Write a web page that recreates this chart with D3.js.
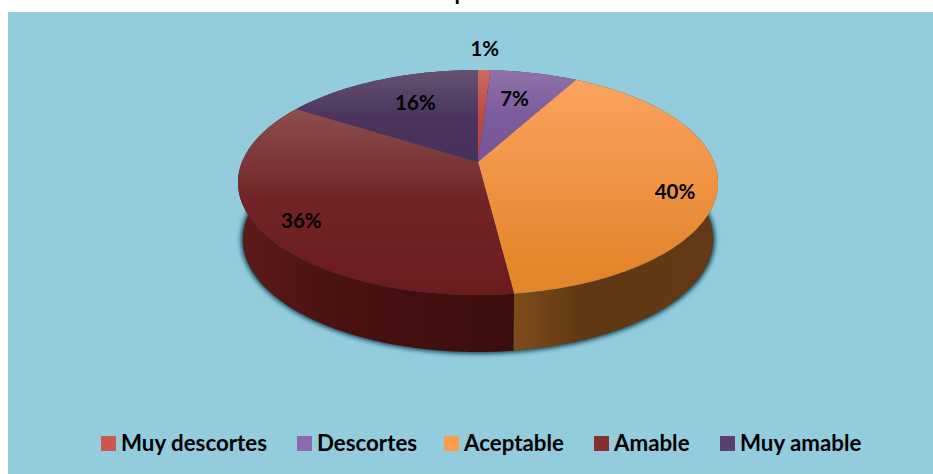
<!DOCTYPE html>
<html>
<head>
<meta charset="utf-8">
<script src="https://cdn.jsdelivr.net/npm/d3@7"></script>
<style>
html,body{margin:0;padding:0;background:#fff;}
svg{display:block;}
text{font-family:Lato,"Open Sans",sans-serif;font-weight:700;fill:#000;}
</style>
</head>
<body>
<div id="chart"></div>
<script>
// Survey answers and their percentages
const categories = ["Muy descortes", "Descortes", "Aceptable", "Amable", "Muy amable"];
const values = [1, 7, 40, 36, 16];

// Slice colours: top face gradient (far, near) and how early the sheen fades
const topFar = ["#cc6a62", "#8f72aa", "#fba35f", "#8c4f4d", "#655270"];
const topNear = ["#b8433d", "#77559a", "#e5852b", "#6c1b1f", "#46305c"];
const sheenFade = [0.8, 0.8, 0.5, 0.85, 0.85];
// Wall colours, left to right across each slice
const wallLeft = ["#6e2320", "#4a3360", "#7d4c1b", "#5c1b19", "#33254a"];
const wallMid = ["#662019", "#432e59", "#5f3713", "#4a1211", "#2f2245"];
const wallRight = ["#5d1b19", "#3d2a52", "#633a15", "#3c0d0d", "#2b1f40"];
const legendFill = ["#cf5650", "#8f69b0", "#fb9c48", "#86302e", "#5a3f70"];

// Label placement: radius as a share of the pie, plus a pixel nudge
const labelRadius = [1.3, 0.69, 0.83, 0.82, 0.7];
const labelNudge = [[-1, 0], [-4, 0], [-1, 12], [1, 6], [9, 0]];

const width = 933, height = 474;
const cx = 478, cy = 162;         // apex of the pie on screen
const a = 236, b = 108.76, k = 0.1823; // perspective of the tilted disc
const depth = 57, baseScale = 0.98;

// Tilted disc: polar coordinates on the unit disc to screen coordinates
function project(t, r) {
  const X = r * Math.sin(t), Y = -r * Math.cos(t);
  const d = 1 - k * Y;
  return [cx + a * X / d, cy + b * Y / d];
}
const lower = p => [cx + (p[0] - cx) * baseScale, p[1] + depth];

const svg = d3.select("#chart").append("svg")
  .attr("width", width).attr("height", height);

const defs = svg.append("defs");
const blur = defs.append("filter").attr("id", "soft")
  .attr("x", "-10%").attr("y", "-10%").attr("width", "120%").attr("height", "120%");
blur.append("feGaussianBlur").attr("stdDeviation", 2.2);

function gradient(id, x1, y1, x2, y2, stops) {
  const g = defs.append("linearGradient").attr("id", id)
    .attr("gradientUnits", "userSpaceOnUse")
    .attr("x1", x1).attr("y1", y1).attr("x2", x2).attr("y2", y2);
  stops.forEach(s => g.append("stop").attr("offset", s[0]).attr("stop-color", s[1]));
}

// Panel behind the chart
svg.append("rect").attr("x", 8).attr("y", 12)
  .attr("width", width - 8).attr("height", height - 12).attr("fill", "#92ccdd");

// Title, clipped by the top of the frame
svg.append("text").attr("x", 454.5).attr("y", 0)
  .attr("font-size", 22).text("p");

const arcs = d3.pie().sort(null).startAngle(0).endAngle(2 * Math.PI)(values);
const line = d3.line();

function arcPoints(d) {
  const n = Math.max(4, Math.ceil((d.endAngle - d.startAngle) / 0.01));
  return d3.range(n + 1).map(i =>
    project(d.startAngle + (d.endAngle - d.startAngle) * i / n, 1));
}

// Soft shadow cast by the base of the pie
svg.append("path")
  .attr("d", line(arcs.flatMap(d => arcPoints(d).map(lower))) + "Z")
  .attr("fill", "#1d4f60").attr("stroke", "#1d4f60").attr("stroke-width", 4)
  .attr("filter", "url(#soft)");

// Outer walls, back to front so the nearest slices stay on top
const body = svg.append("g");
arcs.forEach((d, i) => {
  const top = arcPoints(d);
  const xs = top.map(p => p[0]);
  // Wall shading runs across the visible width of the slice
  gradient("wall" + i, d3.min(xs), 0, d3.max(xs), 0,
    [[0, wallLeft[i]], [0.35, wallMid[i]], [1, wallRight[i]]]);
  d.wall = top.concat(top.map(lower).reverse());
});
arcs.slice().sort((p, q) =>
    d3.max(p.wall, w => w[1]) - d3.max(q.wall, w => w[1]))
  .forEach(d => {
    body.append("path").attr("d", line(d.wall) + "Z")
      .attr("fill", `url(#wall${d.index})`);
  });

// Top faces with a sheen that fades towards the viewer
const topFace = svg.append("g");
arcs.forEach((d, i) => {
  const pts = arcPoints(d);
  const ys = pts.map(p => p[1]).concat(cy);
  const y1 = d3.min(ys);
  const y2 = Math.max(y1 + 90, Math.min(d3.max(ys), y1 + 190));
  gradient("top" + i, 0, y1, 0, y2, [
    [0, topFar[i]],
    [0.5, d3.interpolateRgb(topFar[i], topNear[i])(sheenFade[i])],
    [1, topNear[i]]
  ]);
  topFace.append("path")
    .attr("d", line([[cx, cy]].concat(pts)) + "Z")
    .attr("fill", `url(#top${i})`);
});

// Percentage labels
const format = d3.format(".0f");
svg.append("g").selectAll("text").data(arcs).join("text")
  .attr("text-anchor", "middle").attr("dominant-baseline", "central")
  .attr("font-size", 20.5)
  .attr("x", (d, i) => project((d.startAngle + d.endAngle) / 2, labelRadius[i])[0] + labelNudge[i][0])
  .attr("y", (d, i) => project((d.startAngle + d.endAngle) / 2, labelRadius[i])[1] + labelNudge[i][1])
  .text(d => format(d.value) + "%");

// Legend along the bottom of the panel
const legendStart = [101, 297, 444, 594, 720];
const legend = svg.append("g").selectAll("g").data(categories).join("g")
  .attr("transform", (d, i) => `translate(${legendStart[i]},436)`);
legend.append("rect").attr("width", 15).attr("height", 15)
  .attr("fill", (d, i) => legendFill[i]);
legend.append("text").attr("x", 20).attr("y", 14.5)
  .attr("font-size", 22.3).text(d => d);
</script>
</body>
</html>
